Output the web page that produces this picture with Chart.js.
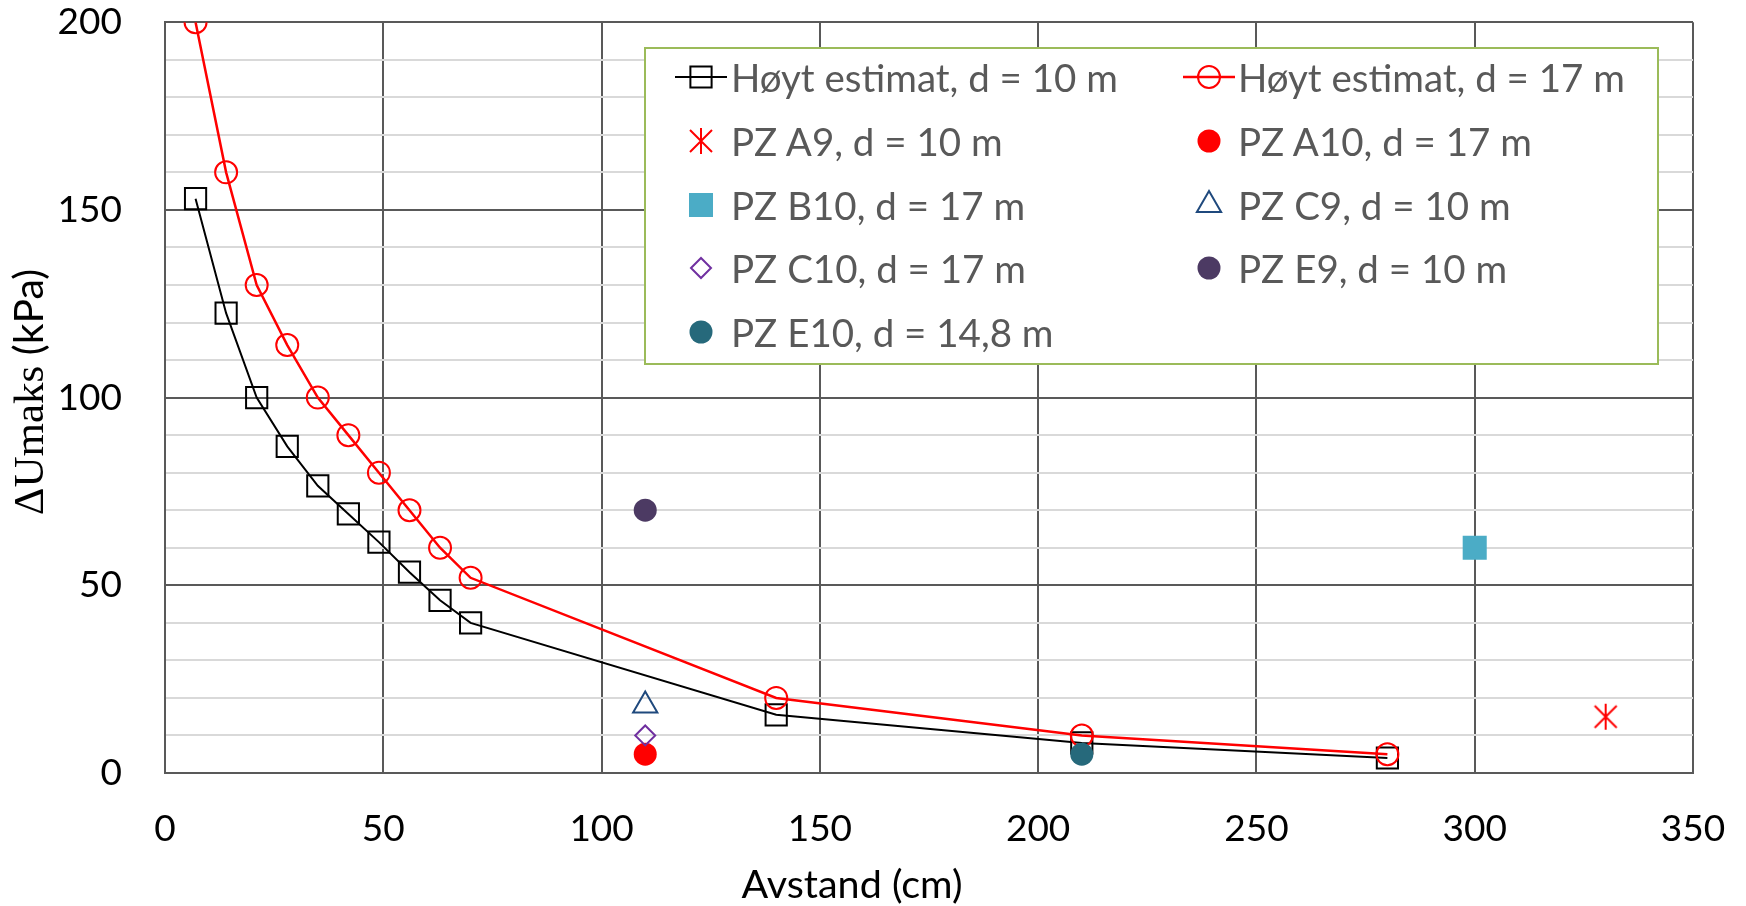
<!DOCTYPE html>
<html>
<head>
<meta charset="utf-8">
<script src="https://cdn.jsdelivr.net/npm/chart.js@4.4.1/dist/chart.umd.min.js"></script>
<style>
html,body{margin:0;padding:0;background:#fff;}
#wrap{position:relative;width:1746px;height:906px;overflow:hidden;}
#c{position:absolute;left:0;top:0;}
#legend{position:absolute;left:644px;top:47px;width:1015px;height:318px;box-sizing:border-box;border:2px solid #9BBB59;background:#fff;font-family:Lato,"Open Sans",sans-serif;font-size:38.5px;color:#595959;}
.lt{position:absolute;white-space:nowrap;line-height:44px;height:44px;}
.lm{position:absolute;}
</style>
</head>
<body>
<div id="wrap">
<canvas id="c" width="1746" height="906"></canvas>
<div id="legend"></div>
</div>
<script>
// ---- data ----
const estX = [7, 14, 21, 28, 35, 42, 49, 56, 63, 70, 140, 210, 280];
const est10Y = [153, 122.5, 100, 87, 76.5, 69, 61.5, 53.5, 46, 40, 15.5, 8, 4];
const est17Y = [200, 160, 130, 114, 100, 90, 80, 70, 60, 52, 20, 10, 5];
const estLabels = ['Høyt estimat, d = 10 m', 'Høyt estimat, d = 17 m'];
const pzLabels = ['PZ A9, d = 10 m', 'PZ A10, d = 17 m', 'PZ B10, d = 17 m', 'PZ C9, d = 10 m', 'PZ C10, d = 17 m', 'PZ E9, d = 10 m', 'PZ E10, d = 14,8 m'];
const pzX = [330, 110, 300, 110, 110, 110, 210];
const pzY = [15, 5, 60, 18, 10, 70, 5];
const xTitle = 'Avstand (cm)';
const yTitleA = 'ΔUmaks';
const yTitleB = ' (kPa)';

// ---- custom asterisk marker ----
function makeAsterisk(color) {
  const cv = document.createElement('canvas');
  cv.width = 26; cv.height = 28;
  const g = cv.getContext('2d');
  g.strokeStyle = color; g.lineWidth = 2;
  g.beginPath();
  g.moveTo(2, 3); g.lineTo(24, 25);
  g.moveTo(24, 3); g.lineTo(2, 25);
  g.moveTo(13, 1); g.lineTo(13, 27);
  g.stroke();
  return cv;
}
const asterisk = makeAsterisk('#FF0000');

const pzStyles = [
  {pointStyle: asterisk, pointRadius: 13, pointBackgroundColor: '#FF0000', pointBorderColor: '#FF0000', pointBorderWidth: 2},
  {pointStyle: 'circle', pointRadius: 11.5, pointBackgroundColor: '#FF0000', pointBorderColor: '#FF0000', pointBorderWidth: 0},
  {pointStyle: 'rect', pointRadius: 17, pointBackgroundColor: '#4BACC6', pointBorderColor: '#4BACC6', pointBorderWidth: 0},
  {pointStyle: 'triangle', pointRadius: 14, pointBackgroundColor: 'rgba(0,0,0,0)', pointBorderColor: '#1F497D', pointBorderWidth: 2},
  {pointStyle: 'rectRot', pointRadius: 10, pointBackgroundColor: 'rgba(0,0,0,0)', pointBorderColor: '#7030A0', pointBorderWidth: 2},
  {pointStyle: 'circle', pointRadius: 11.5, pointBackgroundColor: '#4C3A63', pointBorderColor: '#4C3A63', pointBorderWidth: 0},
  {pointStyle: 'circle', pointRadius: 11.5, pointBackgroundColor: '#26697B', pointBorderColor: '#26697B', pointBorderWidth: 0}
];

const datasets = [
  {label: estLabels[0], data: estX.map((x, i) => ({x: x, y: est10Y[i]})), showLine: true,
   borderColor: '#000000', borderWidth: 2, pointStyle: 'rect', pointRadius: 15,
   pointBackgroundColor: 'rgba(0,0,0,0)', pointBorderColor: '#000000', pointBorderWidth: 2},
  {label: estLabels[1], data: estX.map((x, i) => ({x: x, y: est17Y[i]})), showLine: true,
   borderColor: '#FF0000', borderWidth: 2.5, pointStyle: 'circle', pointRadius: 11,
   pointBackgroundColor: 'rgba(0,0,0,0)', pointBorderColor: '#FF0000', pointBorderWidth: 2}
];
pzLabels.forEach((lab, i) => {
  datasets.push(Object.assign({label: lab, data: [{x: pzX[i], y: pzY[i]}], showLine: false}, pzStyles[i]));
});
datasets.forEach((d, i) => { d.order = 20 - i; d.pointHoverRadius = d.pointRadius; });

const axisTitles = {
  id: 'axisTitles',
  afterDraw(chart) {
    const ctx = chart.ctx;
    ctx.save();
    ctx.fillStyle = '#000000';
    ctx.textBaseline = 'alphabetic';
    ctx.font = '39.5px Lato';
    ctx.textAlign = 'center';
    ctx.fillText(xTitle, 852, 898);
    ctx.translate(43, 392);
    ctx.rotate(-Math.PI / 2);
    ctx.textAlign = 'left';
    const fA = '43px "Liberation Serif"';
    const fB = '41px Lato';
    ctx.font = fA;
    const w1 = ctx.measureText(yTitleA).width;
    ctx.font = fB;
    const w2 = ctx.measureText(yTitleB).width;
    const start = -(w1 + w2) / 2;
    ctx.font = fA;
    ctx.fillText(yTitleA, start, 0);
    ctx.font = fB;
    ctx.fillText(yTitleB, start + w1, 0);
    ctx.restore();
  }
};

const MAJOR = '#595959', MINOR = '#D9D9D9';

const chart = new Chart(document.getElementById('c'), {
  type: 'scatter',
  data: {datasets: datasets},
  options: {
    responsive: false,
    animation: false,
    devicePixelRatio: 1,
    layout: {padding: {left: 0, right: 53, top: 22, bottom: 0}},
    plugins: {legend: {display: false}, tooltip: {enabled: false}, title: {display: false}},
    scales: {
      x: {
        type: 'linear', min: 0, max: 350,
        afterFit(s) { s.height = 133; },
        ticks: {stepSize: 50, color: '#000000', font: {family: 'Lato', size: 37}, padding: 0, maxRotation: 0},
        grid: {color: MAJOR, lineWidth: 2, drawTicks: true, tickLength: 34, tickColor: 'rgba(0,0,0,0)'},
        border: {color: MAJOR, width: 2}
      },
      y: {
        type: 'linear', min: 0, max: 200,
        afterFit(s) { s.width = 165; },
        ticks: {stepSize: 10, color: '#000000', font: {family: 'Lato', size: 37}, padding: 0,
          autoSkip: false,
          callback: v => (v % 50 === 0 ? String(v) : '')},
        grid: {color: c => (c.tick && c.tick.value % 50 === 0 ? MAJOR : MINOR), lineWidth: 2,
          drawTicks: true, tickLength: 43, tickColor: 'rgba(0,0,0,0)'},
        border: {color: MAJOR, width: 2}
      }
    }
  },
  plugins: [axisTitles]
});

// ---- HTML legend ----
const legendEl = document.getElementById('legend');
const rowY = [28, 92, 156, 219, 283];
const markX = [55, 563];
const textX = [85, 592];
function drawMarker(g, d, cx, cy) {
  g.save();
  if (d.showLine) {
    g.strokeStyle = d.borderColor; g.lineWidth = d.borderWidth;
    g.beginPath(); g.moveTo(cx - 26, cy); g.lineTo(cx + 26, cy); g.stroke();
  }
  g.fillStyle = d.pointBackgroundColor;
  g.strokeStyle = d.pointBorderColor;
  g.lineWidth = d.pointBorderWidth;
  const opts = {pointStyle: d.pointStyle, radius: d.pointRadius, borderWidth: d.pointBorderWidth, rotation: 0};
  if (d.pointStyle instanceof HTMLCanvasElement) {
    g.drawImage(d.pointStyle, cx - d.pointStyle.width / 2, cy - d.pointStyle.height / 2);
  } else if (Chart.helpers && Chart.helpers.drawPoint) {
    Chart.helpers.drawPoint(g, opts, cx, cy);
  }
  g.restore();
}
datasets.forEach((d, i) => {
  const row = Math.floor(i / 2), col = i % 2;
  const cv = document.createElement('canvas');
  cv.width = 64; cv.height = 44; cv.className = 'lm';
  cv.style.left = (markX[col] - 32) + 'px';
  cv.style.top = (rowY[row] - 22) + 'px';
  drawMarker(cv.getContext('2d'), d, 32, 22);
  legendEl.appendChild(cv);
  const sp = document.createElement('span');
  sp.className = 'lt';
  sp.textContent = d.label;
  sp.style.left = textX[col] + 'px';
  sp.style.top = (rowY[row] - 22) + 'px';
  legendEl.appendChild(sp);
});
</script>
</body>
</html>
